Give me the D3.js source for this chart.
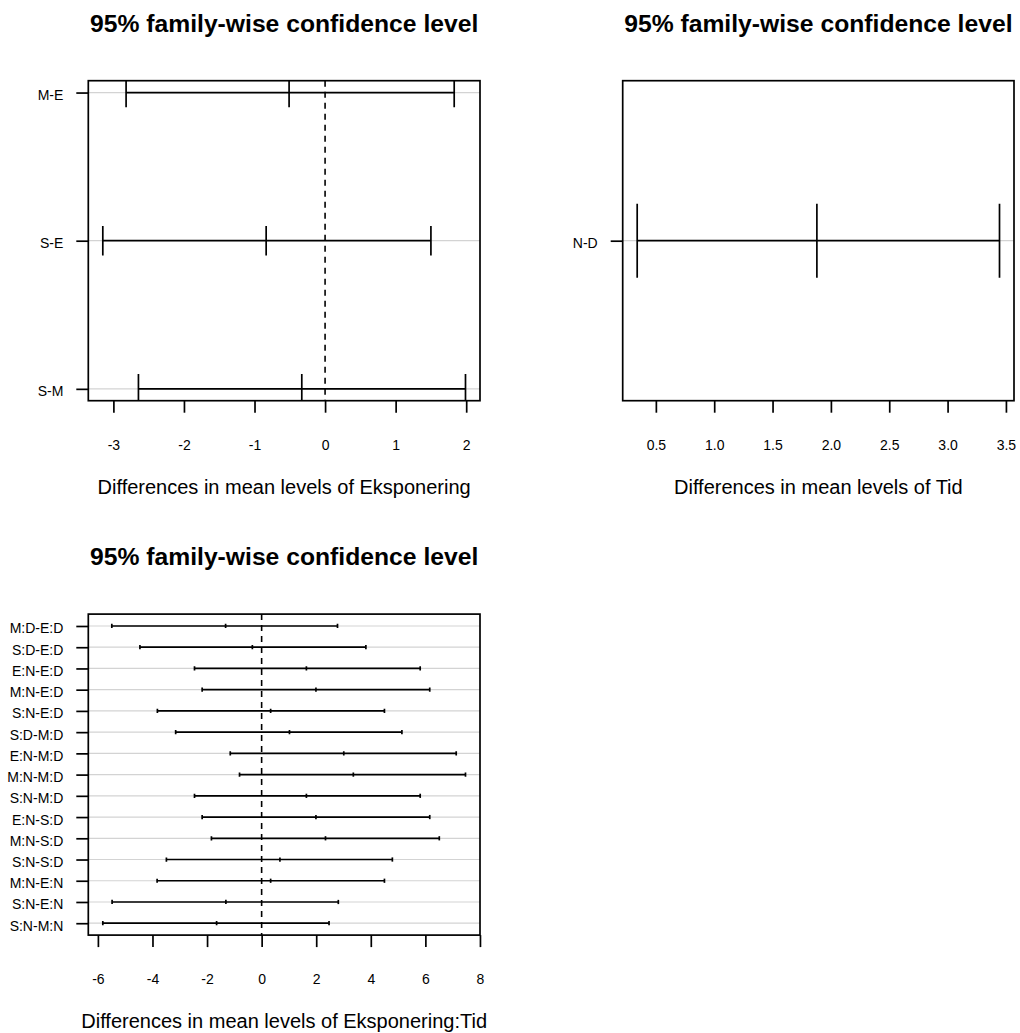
<html>
<head>
<meta charset="utf-8">
<style>
    body { margin:0; background:white; }
    text { font-family:"Liberation Sans", Arial, sans-serif; fill:black; }
    .title { font-size:24.7px; font-weight:bold; }
    .label { font-size:20px; }
    .tick { font-size:14px; }
</style>
</head>
<body>
<svg id="plot"></svg>
<script src="https://d3js.org/d3.v7.min.js"></script>
<script>

// Eksponering
var expLabels = ["M-E","S-E","S-M"];
var expLwr  = [-2.82,-3.15,-2.645];
var expDiff = [-0.51,-0.835,-0.33];
var expUpr  = [1.83,1.50,1.99];
var expTicks = [-3,-2,-1,0,1,2];

// Tid
var tidLabels = ["N-D"];
var tidLwr  = [0.34];
var tidDiff = [1.88];
var tidUpr  = [3.445];
var tidTicks = [0.5,1.0,1.5,2.0,2.5,3.0,3.5];

// Eksponering:Tid
var intLabels = ["M:D-E:D","S:D-E:D","E:N-E:D","M:N-E:D","S:N-E:D","S:D-M:D","E:N-M:D",
                 "M:N-M:D","S:N-M:D","E:N-S:D","M:N-S:D","S:N-S:D","M:N-E:N","S:N-E:N","S:N-M:N"];
var intLwr  = [-5.49,-4.46,-2.46,-2.18,-3.82,-3.15,-1.15,-0.81,-2.46,-2.18,-1.84,-3.49,-3.83,-5.48,-5.82];
var intDiff = [-1.32,-0.34,1.64,1.99,0.33,1.02,3.01,3.36,1.64,1.99,2.34,0.67,0.33,-1.31,-1.65];
var intUpr  = [2.78,3.82,5.81,6.16,4.50,5.14,7.13,7.47,5.81,6.16,6.51,4.79,4.50,2.81,2.47];
var intTicks = [-6,-4,-2,0,2,4,6,8];

var mainTitle = "95% family-wise confidence level";

var screen = {width:1020, height:1033};

d3.select("#plot")
    .attr("width",screen.width)
    .attr("height",screen.height);

// R style 4% padding of a range
var padRange = function(lo,hi)
{
    if(lo == hi)
    {
        lo = lo*0.6;
        hi = hi*1.4;
    }
    var d = (hi-lo)*0.04;
    return [lo-d,hi+d];
}

// plain hyphen for negatives, like R
var hyphen = function(f)
{
    return function(v){return f(v).replace("\u2212","-");};
}

var drawPanel = function(target,p)
{
    var w = p.box.width, h = p.box.height;
    var n = p.labels.length;

    var rows = p.labels.map(function(lab,i)
    {
        return {label:lab, lwr:p.lwr[i], diff:p.diff[i], upr:p.upr[i], y:n-i};
    });

    var xScale = d3.scaleLinear()
        .domain(padRange(d3.min(p.lwr),d3.max(p.upr)))
        .range([0,w]);

    var yScale = d3.scaleLinear()
        .domain(padRange(1,n))
        .range([h,0]);

    var g = d3.select(target)
        .append("g")
        .attr("transform","translate("+p.box.left+","+p.box.top+")");

    var clipId = "clip"+p.id;
    g.append("clipPath")
        .attr("id",clipId)
        .append("rect")
        .attr("width",w)
        .attr("height",h);

    var inner = g.append("g")
        .attr("clip-path","url(#"+clipId+")");

    // light grey row lines
    inner.selectAll(".grid")
        .data(rows)
        .enter()
        .append("line")
        .attr("x1",0)
        .attr("x2",w)
        .attr("y1",function(d){return yScale(d.y);})
        .attr("y2",function(d){return yScale(d.y);})
        .attr("stroke","#d3d3d3")
        .attr("stroke-width",1.2);

    // zero line
    inner.append("line")
        .attr("x1",xScale(0))
        .attr("x2",xScale(0))
        .attr("y1",0)
        .attr("y2",h)
        .attr("stroke","black")
        .attr("stroke-width",1.6)
        .attr("stroke-dasharray","6,5");

    inner.selectAll(".ci")
        .data(rows)
        .enter()
        .append("line")
        .attr("x1",function(d){return xScale(d.lwr);})
        .attr("x2",function(d){return xScale(d.upr);})
        .attr("y1",function(d){return yScale(d.y);})
        .attr("y2",function(d){return yScale(d.y);})
        .attr("stroke","black")
        .attr("stroke-width",1.7);

    var ends = [];
    rows.forEach(function(d)
    {
        ends.push({x:d.lwr,y:d.y});
        ends.push({x:d.diff,y:d.y});
        ends.push({x:d.upr,y:d.y});
    });

    inner.selectAll(".end")
        .data(ends)
        .enter()
        .append("line")
        .attr("x1",function(d){return xScale(d.x);})
        .attr("x2",function(d){return xScale(d.x);})
        .attr("y1",function(d){return yScale(d.y-0.1);})
        .attr("y2",function(d){return yScale(d.y+0.1);})
        .attr("stroke","black")
        .attr("stroke-width",1.7);

    // x axis
    var xAxis = d3.axisBottom(xScale)
        .tickValues(p.ticks)
        .tickFormat(hyphen(p.fmt))
        .tickSize(12)
        .tickPadding(27);

    var xg = g.append("g")
        .attr("transform","translate(0,"+h+")")
        .call(xAxis);
    xg.select(".domain").remove();
    xg.selectAll("line").attr("stroke","black").attr("stroke-width",1.7);
    xg.selectAll("text")
        .style("font-size","14px")
        .style("font-family","'Liberation Sans', Arial, sans-serif");

    // y axis
    var yAxis = d3.axisLeft(yScale)
        .tickValues(rows.map(function(d){return d.y;}))
        .tickFormat(function(v){return p.labels[n-v];})
        .tickSize(12)
        .tickPadding(13);

    var yg = g.append("g").call(yAxis);
    yg.select(".domain").remove();
    yg.selectAll("line").attr("stroke","black").attr("stroke-width",1.7);
    yg.selectAll("text")
        .attr("dy","0.5em")
        .style("font-size","14px")
        .style("font-family","'Liberation Sans', Arial, sans-serif");

    // box
    g.append("rect")
        .attr("width",w)
        .attr("height",h)
        .attr("fill","none")
        .attr("stroke","black")
        .attr("stroke-width",1.7);

    g.append("text")
        .classed("title",true)
        .attr("text-anchor","middle")
        .attr("x",w/2)
        .attr("y",-49)
        .text(mainTitle);

    g.append("text")
        .classed("label",true)
        .attr("text-anchor","middle")
        .attr("x",w/2)
        .attr("y",h+93)
        .text("Differences in mean levels of "+p.factor);
}

var panels = [
    {id:1, factor:"Eksponering", labels:expLabels, lwr:expLwr, diff:expDiff, upr:expUpr,
     ticks:expTicks, fmt:d3.format("d"),
     box:{left:88.3, top:80.7, width:391.7, height:320}},
    {id:2, factor:"Tid", labels:tidLabels, lwr:tidLwr, diff:tidDiff, upr:tidUpr,
     ticks:tidTicks, fmt:d3.format(".1f"),
     box:{left:622.7, top:80.7, width:391.3, height:320}},
    {id:3, factor:"Eksponering:Tid", labels:intLabels, lwr:intLwr, diff:intDiff, upr:intUpr,
     ticks:intTicks, fmt:d3.format("d"),
     box:{left:88.3, top:614.1, width:391.7, height:321}}
];

panels.forEach(function(p)
{
    drawPanel("#plot",p);
});

</script>
</body>
</html>
